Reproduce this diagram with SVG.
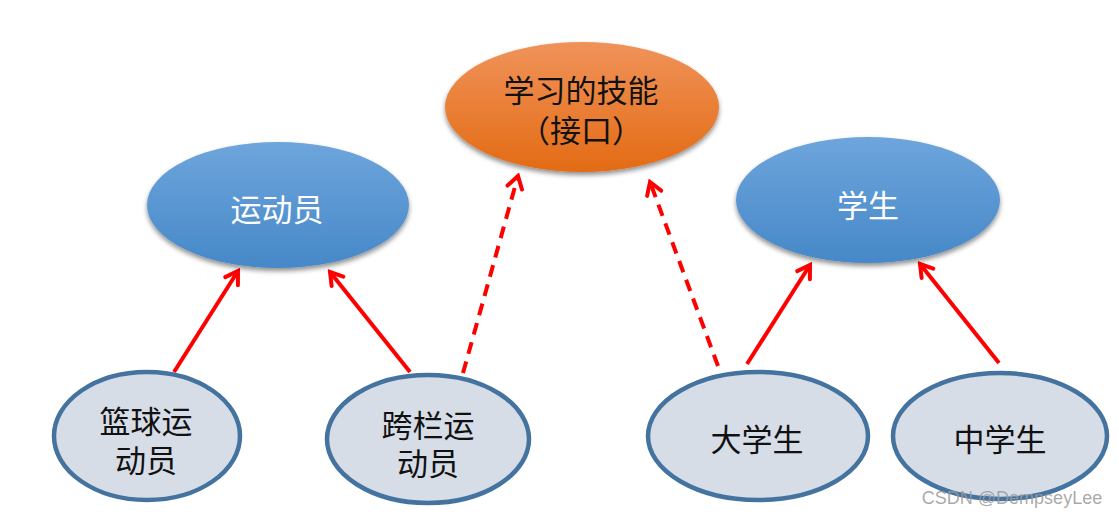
<svg xmlns="http://www.w3.org/2000/svg" width="1119" height="518" viewBox="0 0 1119 518">
<style>
.t{font-family:"Noto Sans CJK SC","Noto Sans",sans-serif;font-size:31px;text-anchor:middle;dominant-baseline:central}
.dark{fill:#111}
.light{fill:#fff}
.sub{fill:#d6dde7;stroke:#44739f;stroke-width:4.5}
.c{stroke:#ff0000;stroke-width:4;fill:none;marker-end:url(#ah)}
.d{stroke-dasharray:12,8}
</style>
<defs>
<linearGradient id="og" x1="0" y1="0" x2="0" y2="1">
<stop offset="0" stop-color="#f0935a"/>
<stop offset="1" stop-color="#e36b14"/>
</linearGradient>
<linearGradient id="bg" x1="0" y1="0" x2="0" y2="1">
<stop offset="0" stop-color="#6ea5dc"/>
<stop offset="1" stop-color="#4688c8"/>
</linearGradient>
<filter id="sh" x="-20%" y="-20%" width="140%" height="150%">
<feGaussianBlur in="SourceAlpha" stdDeviation="2.5"/>
<feOffset dx="0" dy="3" result="b"/>
<feComponentTransfer><feFuncA type="linear" slope="0.45"/></feComponentTransfer>
<feMerge><feMergeNode/><feMergeNode in="SourceGraphic"/></feMerge>
</filter>
<marker id="ah" viewBox="0 0 20 20" refX="17" refY="10" markerWidth="20" markerHeight="20" markerUnits="userSpaceOnUse" orient="auto">
<path d="M5,2.5 L17,10 L5,17.5" fill="none" stroke="#ff0000" stroke-width="4" stroke-linecap="round" stroke-linejoin="miter"/>
</marker>
</defs>
<rect width="1119" height="518" fill="#fff"/>
<g id="connectors">
<line class="c" x1="174" y1="372" x2="238" y2="271"/>
<line class="c" x1="410" y1="372" x2="330" y2="272"/>
<line class="c d" x1="463" y1="373" x2="518" y2="176"/>
<line class="c d" x1="718" y1="366" x2="650" y2="182"/>
<line class="c" x1="747" y1="364" x2="810" y2="265"/>
<line class="c" x1="999" y1="363" x2="920" y2="264"/>
</g>
<g id="skill">
<ellipse cx="582" cy="107" rx="137" ry="65" fill="url(#og)" filter="url(#sh)"/>
<text class="t dark" x="581" y="88">学习的技能<tspan x="581" dy="40">（接口）</tspan></text>
</g>
<g id="athlete">
<ellipse cx="278" cy="205" rx="131" ry="63" fill="url(#bg)" filter="url(#sh)"/>
<text class="t light" x="277" y="207">运动员</text>
</g>
<g id="student">
<ellipse cx="868" cy="200" rx="132" ry="63" fill="url(#bg)" filter="url(#sh)"/>
<text class="t light" x="868" y="203">学生</text>
</g>
<g id="basketball">
<ellipse class="sub" cx="147" cy="436" rx="93" ry="64"/>
<text class="t dark" x="146" y="419">篮球运<tspan x="146" dy="39">动员</tspan></text>
</g>
<g id="hurdler">
<ellipse class="sub" cx="428" cy="439" rx="101" ry="64"/>
<text class="t dark" x="428" y="423">跨栏运<tspan x="428" dy="38">动员</tspan></text>
</g>
<g id="college">
<ellipse class="sub" cx="758" cy="436" rx="110" ry="64"/>
<text class="t dark" x="757" y="437">大学生</text>
</g>
<g id="middle">
<ellipse class="sub" cx="1000" cy="436" rx="107" ry="63"/>
<text class="t dark" x="1000" y="437">中学生</text>
</g>
<text x="1012" y="498" font-family="Liberation Sans,Arial,sans-serif" font-size="18" fill="#9a9a9a" fill-opacity="0.85" text-anchor="middle" dominant-baseline="central">CSDN @DempseyLee</text>
</svg>
